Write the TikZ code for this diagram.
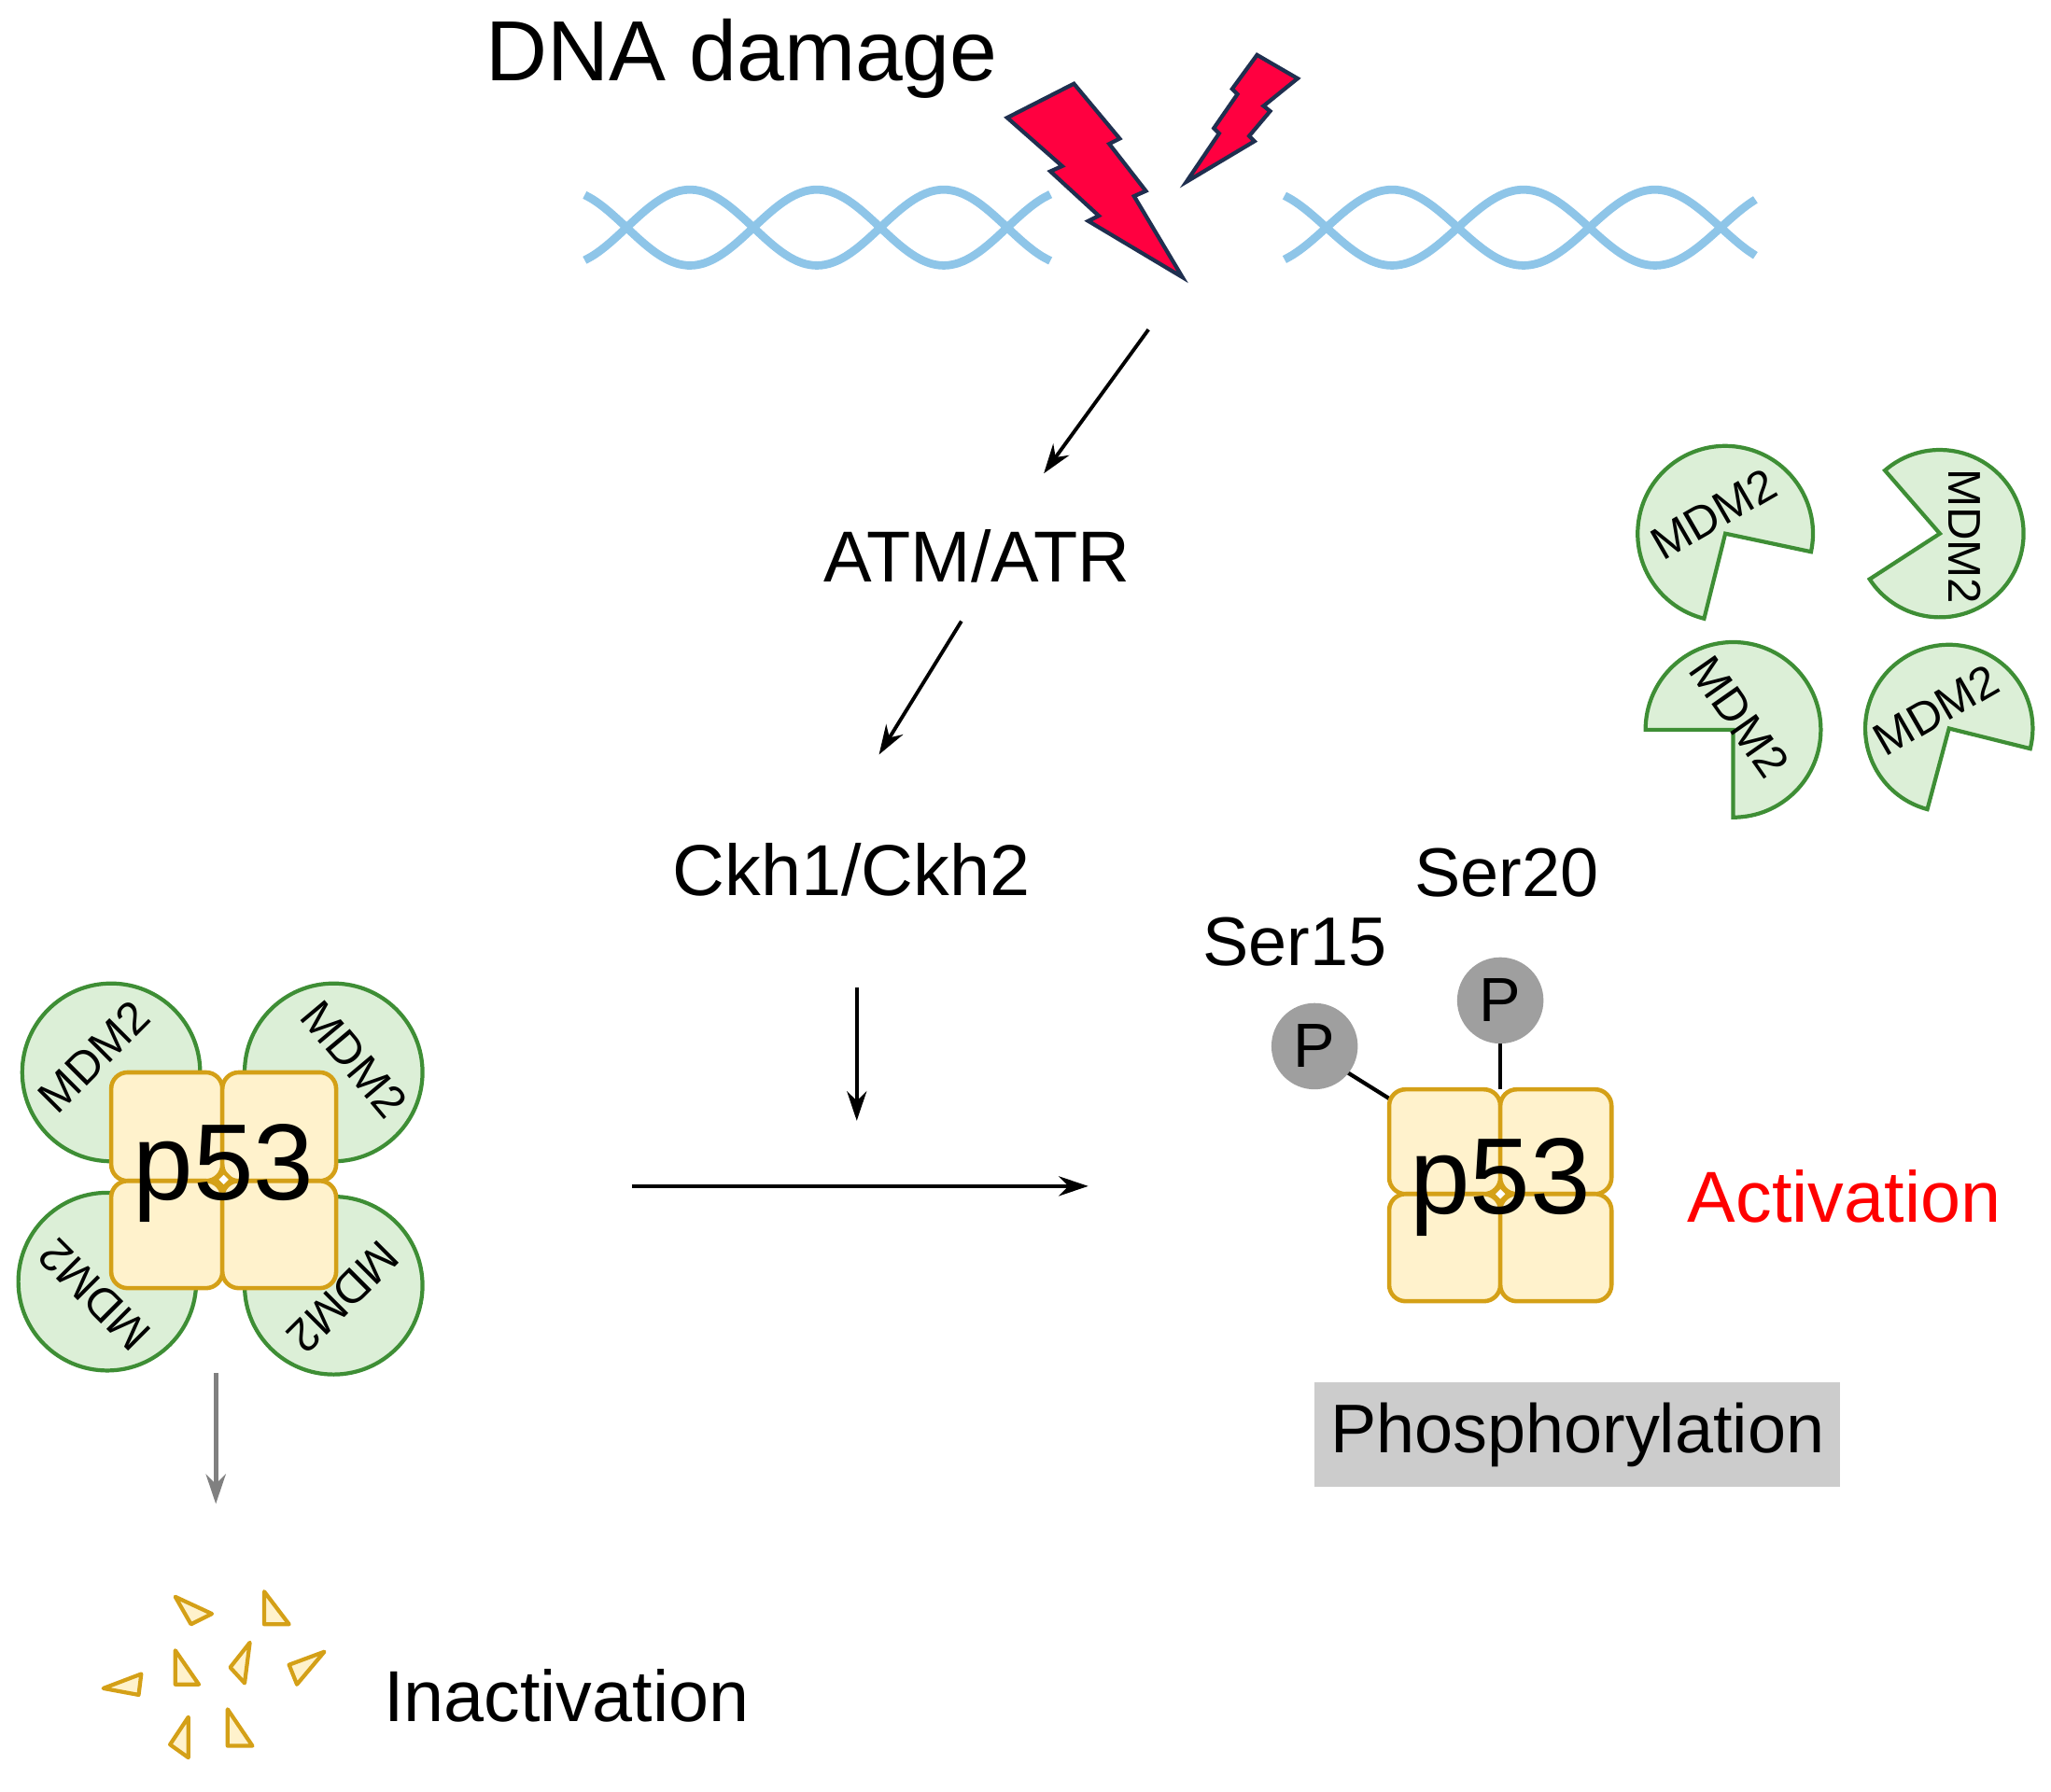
\documentclass[tikz,border=0pt]{standalone}
\usepackage{fontspec}
\setmainfont{Liberation Sans}
\usetikzlibrary{arrows.meta}
\definecolor{mfill}{HTML}{DCEFD7}\definecolor{mline}{HTML}{3E8E35}
\definecolor{pfill}{HTML}{FFF2CC}\definecolor{pline}{HTML}{D4A017}
\definecolor{dna}{HTML}{8EC5E8}\definecolor{bolt}{HTML}{FF0040}\definecolor{boltl}{HTML}{1F2F4F}
\tikzset{
 fs/.style={font=\fontsize{#1}{#1}\selectfont},
 arr/.style={-{Stealth[length=9pt,width=6pt]},line width=1.1pt},
 mdm/.style={fill=mfill,draw=mline,line width=1.2pt},
 sq/.style={fill=pfill,draw=pline,line width=1.3pt,rounded corners=5pt},
 frag/.style={fill=pfill,draw=pline,line width=1.2pt,line join=round},
 mt/.style={fs=14,inner sep=0pt},
 helix/.style={dna,line width=2.5pt,smooth,samples=60}
}
\begin{document}
\begin{tikzpicture}[x=0.014cm,y=0.014cm]
\useasboundingbox (0,0) rectangle (1568,-1370);
% DNA
\draw[helix] plot[domain=447:803] (\x,{-174-29*sin(((\x-479)/97)*180)});
\draw[helix] plot[domain=447:803] (\x,{-174+29*sin(((\x-479)/97)*180)});
\draw[helix] plot[domain=982:1342] (\x,{-174-29*sin(((\x-1014)/100.5)*180)});
\draw[helix] plot[domain=982:1342] (\x,{-174+29*sin(((\x-1014)/100.5)*180)});
% bolts
\draw[fill=bolt,draw=boltl,line width=1.2pt,line join=miter] (770,-90)--(812,-127)--(803,-131)--(840,-165)--(832,-169)--(904,-212)--(867,-150)--(876,-146)--(848,-110)--(856,-106)--(821,-64)--cycle;
\draw[fill=bolt,draw=boltl,line width=1.2pt] (907,-139)--(932,-102)--(928,-98)--(946,-72)--(942,-68)--(961,-42)--(992,-60)--(966,-81)--(971,-85)--(955,-104)--(959,-108)--cycle;
\node[fs=26] (dna) at (567,-45) {DNA damage};
% pathway
\coordinate (a1) at (878,-252); \coordinate (a2) at (798,-362);
\draw[arr] (a1)--(a2);
\node[fs=22] (atm) at (747,-425) {ATM/ATR};
\coordinate (b1) at (735,-475); \coordinate (b2) at (672,-577);
\draw[arr] (b1)--(b2);
\node[fs=22] (ckh) at (651,-665) {Ckh1/Ckh2};
\coordinate (c1) at (655,-755); \coordinate (c2) at (655,-857);
\draw[arr] (c1)--(c2);
\coordinate (d1) at (483,-907); \coordinate (d2) at (832,-907);
\draw[arr] (d1)--(d2);
% left complex
\draw[mdm] (85,-820) circle (68); \draw[mdm] (255,-820) circle (68);
\draw[mdm] (82,-980) circle (68); \draw[mdm] (255,-983) circle (68);
\draw[sq] (85,-820) rectangle (170,-903); \draw[sq] (170,-820) rectangle (257,-903);
\draw[sq] (85,-903) rectangle (170,-985); \draw[sq] (170,-903) rectangle (257,-985);
\node[mt,rotate=45] (m1) at (72,-808) {MDM2};
\node[mt,rotate=-50] (m2) at (271,-810) {MDM2};
\node[mt,rotate=135] (m3) at (72,-990) {MDM2};
\node[mt,rotate=-135] (m4) at (262,-992) {MDM2};
\node[fs=33,inner sep=0pt] (p1) at (171,-897) {p53};
\draw[pline,line width=1.2pt,fill=white] (171,-896)--(177,-902)--(171,-908)--(165,-902)--cycle;
\coordinate (g1) at (165,-1050); \coordinate (g2) at (165,-1150);
\draw[arr,draw=gray,fill=gray,line width=1.4pt] (g1)--(g2);
% fragments
\draw[frag] (134,-1221)--(162,-1234)--(146,-1242)--cycle;
\draw[frag] (202,-1217)--(202,-1242)--(221,-1242)--cycle;
\draw[frag] (134,-1262)--(134,-1288)--(152,-1288)--cycle;
\draw[frag] (191,-1256)--(176,-1275)--(187,-1287)--cycle;
\draw[frag] (248,-1263)--(221,-1273)--(227,-1288)--cycle;
\draw[frag] (79,-1291)--(108,-1280)--(106,-1296)--cycle;
\draw[frag] (144,-1313)--(130,-1334)--(144,-1344)--cycle;
\draw[frag] (174,-1307)--(174,-1335)--(193,-1335)--cycle;
\node[fs=22] (inact) at (433,-1297) {Inactivation};
% right complex
\node[fs=21] (s15) at (990,-720) {Ser15};
\node[fs=21] (s20) at (1152,-667) {Ser20};
\draw[line width=1.2pt] (1030,-820)--(1062,-840);
\draw[line width=1.2pt] (1147,-798)--(1147,-833);
\node[circle,fill=gray!75,minimum size=66*0.014cm,inner sep=0pt,fs=19] (P1) at (1005,-800) {P};
\node[circle,fill=gray!75,minimum size=66*0.014cm,inner sep=0pt,fs=19] (P2) at (1147,-765) {P};
\draw[sq] (1062,-833) rectangle (1147,-913); \draw[sq] (1147,-833) rectangle (1232,-913);
\draw[sq] (1062,-913) rectangle (1147,-995); \draw[sq] (1147,-913) rectangle (1232,-995);
\node[fs=33,inner sep=0pt] (p2) at (1147,-908) {p53};
\draw[pline,line width=1.2pt,fill=white] (1147,-907)--(1153,-913)--(1147,-919)--(1141,-913)--cycle;
\node[fs=22,text=red] (act) at (1410,-915) {Activation};
\node[fill=gray!40,minimum width=402*0.014cm,minimum height=80*0.014cm,fs=21] (phos) at (1206,-1097) {Phosphorylation};
% free MDM2
\draw[mdm] (1319,-408) -- ++(-12:67) arc[start angle=-12,end angle=256,radius=67] -- cycle;
\node[mt,rotate=30] at (1310,-393) {MDM2};
\draw[mdm] (1483,-408) -- ++(213:64) arc[start angle=213,end angle=491,radius=64] -- cycle;
\node[mt,rotate=-90] at (1502,-410) {MDM2};
\draw[mdm] (1325,-558) -- ++(270:67) arc[start angle=270,end angle=540,radius=67] -- cycle;
\node[mt,rotate=-55] at (1330,-548) {MDM2};
\draw[mdm] (1490,-557) -- ++(-14:64) arc[start angle=-14,end angle=255,radius=64] -- cycle;
\node[mt,rotate=30] at (1480,-543) {MDM2};
\end{tikzpicture}
\end{document}
